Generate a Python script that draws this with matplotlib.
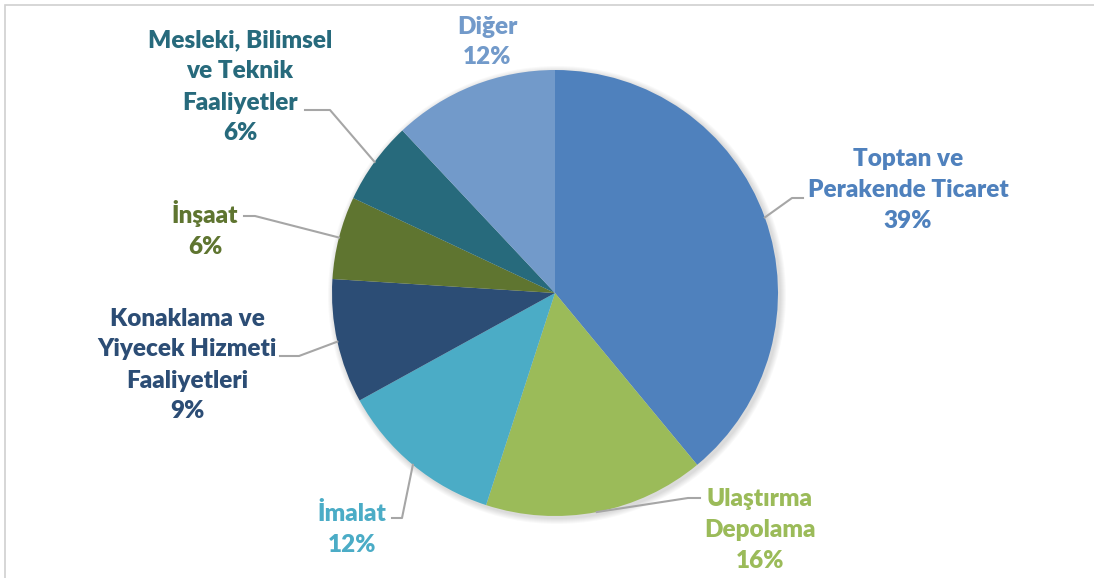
import numpy as np
import matplotlib.pyplot as plt
from matplotlib.patches import Circle, Rectangle

plt.rcParams['font.family'] = ['Lato', 'DejaVu Sans']

labels = ["Toptan ve\nPerakende Ticaret", "Ulaştırma\nDepolama", "İmalat",
          "Konaklama ve\nYiyecek Hizmeti\nFaaliyetleri", "İnşaat",
          "Mesleki, Bilimsel\nve Teknik\nFaaliyetler", "Diğer"]
values = [39, 16, 12, 9, 6, 6, 12]
colors = ["#4F81BD", "#9BBB59", "#4BACC6", "#2C4D75", "#5F7530", "#276A7C", "#729ACA"]

W, H = 1094, 578
cx, cy, R = 555, 293, 223

# label block centres and leader elbows (pixel coords, y down)
text_pos = [(908, 190), (760, 530), (352, 529), (187, 365), (205, 229), (240, 87), (487, 42)]
elbows = [[(792, 198), (803, 198)], [(688, 498), (700, 498)], [(402, 518), (392, 518)],
          [(299, 356), (280, 356)], [(255, 216), (244, 216)], [(330, 110), (305, 110)], None]


def py(y):
    return H - y


fig = plt.figure(figsize=(W / 100, H / 100), dpi=100)
ax = fig.add_axes([0, 0, 1, 1])

# frame
ax.add_patch(Rectangle((4.5, -10), W + 20, py(4.5) + 10, fill=False, ec="#D0D0D0", lw=1.2))

# soft shadow
for k in range(6):
    ax.add_patch(Circle((cx + 2, py(cy) - 2), R + 1 + k, color="k", alpha=0.025, lw=0))

wedges, _ = ax.pie(values, colors=colors, startangle=90, counterclock=False,
                   center=(cx, py(cy)), radius=R, frame=True,
                   wedgeprops=dict(linewidth=0))
ax.set_xlim(0, W)
ax.set_ylim(0, H)
ax.axis("off")

for w, lab, v, c, tp, el in zip(wedges, labels, values, colors, text_pos, elbows):
    ax.text(tp[0], py(tp[1]), f"{lab}\n{v}%", color=c, fontsize=17.5, fontweight="heavy",
            ha="center", va="center", linespacing=1.5)
    if el is None:
        continue
    ang = np.deg2rad((w.theta1 + w.theta2) / 2)
    x0 = cx + R * np.cos(ang)
    y0 = py(cy) + R * np.sin(ang)
    xs = [x0] + [p[0] for p in el]
    ys = [y0] + [py(p[1]) for p in el]
    ax.plot(xs, ys, color="#A6A6A6", lw=1.5)

fig.savefig("out.png", dpi=100)
